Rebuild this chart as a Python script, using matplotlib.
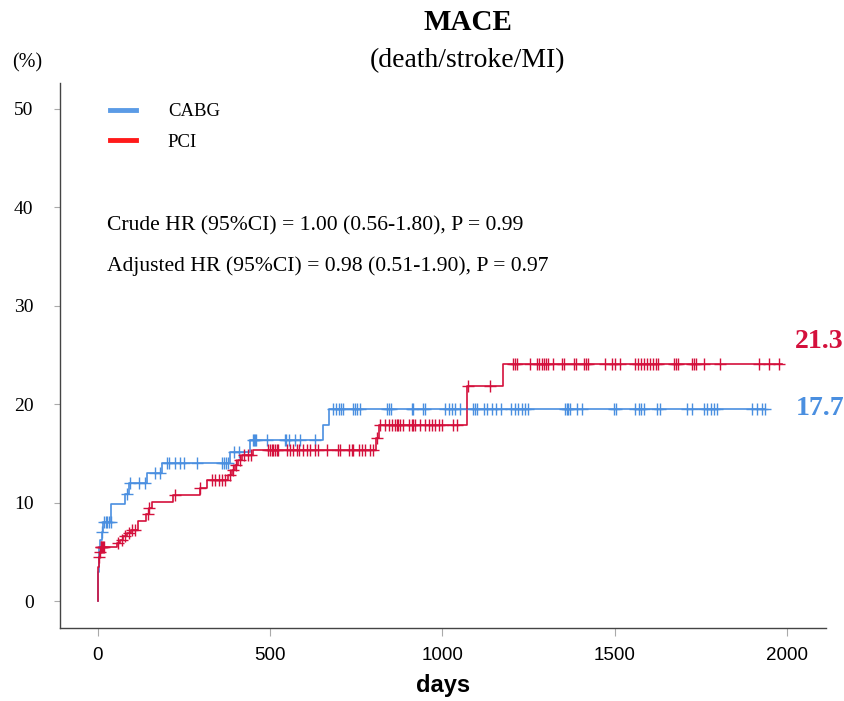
import numpy as np
import matplotlib
matplotlib.use("Agg")
import matplotlib.pyplot as plt
from matplotlib.lines import Line2D

# ---------------- data ----------------
cabg_time = [0, 1, 2, 3, 5, 8, 12, 16, 40, 80, 90, 143, 187, 385, 443, 655, 672]
cabg_pct = [0, 1.5, 3.0, 4.5, 5.5, 6.2, 7.0, 8.0, 9.9, 10.9, 12.0, 13.0, 14.0, 15.1, 16.4, 17.9, 19.5]
cabg_end = 1937
cabg_censor = [14, 20, 24, 28, 33, 38, 86, 95, 120, 138, 168, 180, 200, 206, 224, 239, 251,
               289, 362, 367, 372, 377, 395, 410, 450, 454, 457, 461, 492, 544, 548, 556,
               573, 587, 631, 684, 692, 699, 706, 713, 741, 748, 754, 761, 839, 845, 850,
               911, 916, 945, 950, 1008, 1018, 1028, 1037, 1052, 1090, 1095, 1101, 1120,
               1130, 1145, 1155, 1170, 1200, 1210, 1220, 1230, 1240, 1250, 1356, 1361, 1366,
               1371, 1390, 1404, 1497, 1505, 1560, 1570, 1575, 1585, 1622, 1632, 1710, 1724,
               1758, 1768, 1778, 1788, 1797, 1898, 1912, 1927, 1937]

pci_time = [0, 1, 2, 4, 6, 9, 55, 66, 75, 85, 98, 118, 140, 150, 158, 219, 297, 316, 379,
            389, 399, 408, 418, 452, 808, 815, 1071, 1175]
pci_pct = [0, 2.0, 3.5, 4.5, 5.0, 5.5, 5.9, 6.2, 6.6, 6.9, 7.2, 8.1, 8.8, 9.5, 10.1, 10.8,
           11.5, 12.3, 12.8, 13.3, 13.8, 14.3, 14.8, 15.3, 16.6, 17.9, 21.9, 24.1]
pci_end = 1985
pci_censor = [5, 7, 9, 11, 13, 16, 20, 60, 72, 80, 90, 100, 108, 145, 150, 225, 297, 331, 341,
              351, 360, 370, 383, 393, 403, 412, 424, 435, 445, 495, 500, 505, 510, 515, 520,
              524, 549, 558, 568, 578, 585, 595, 608, 616, 631, 640, 665, 698, 703, 730, 737,
              742, 757, 766, 776, 790, 800, 812, 819, 834, 844, 853, 863, 868, 872, 877, 887,
              902, 911, 916, 921, 936, 950, 960, 969, 979, 989, 998, 1032, 1042, 1075, 1139,
              1205, 1212, 1218, 1253, 1274, 1281, 1288, 1295, 1301, 1308, 1322, 1347, 1354,
              1381, 1388, 1410, 1417, 1424, 1471, 1492, 1502, 1516, 1560, 1568, 1577, 1585,
              1594, 1602, 1611, 1619, 1627, 1671, 1678, 1685, 1724, 1731, 1737, 1758, 1806,
              1918, 1947, 1976]

series_labels = ["CABG", "PCI"]
end_values = ["17.7", "21.3"]
hr_lines = ["Crude HR (95%CI) = 1.00 (0.56-1.80), P = 0.99",
            "Adjusted HR (95%CI) = 0.98 (0.51-1.90), P = 0.97"]
x_ticks = [0, 500, 1000, 1500, 2000]
y_ticks = [0, 10, 20, 30, 40, 50]

# ---------------- style ----------------
BLUE = "#4a8fe0"
RED = "#d4103c"
SERIF = ["Liberation Serif", "DejaVu Serif"]
SANS = ["Liberation Sans", "DejaVu Sans"]

fig = plt.figure(figsize=(8.45, 7.01), dpi=100)
ax = fig.add_axes([0.0710, 0.1041, 0.9065, 0.7775])


def step_curve(times, pcts, end, censor, color):
    t = list(times) + [end]
    p = list(pcts) + [pcts[-1]]
    ax.step(t, p, where="post", color=color, lw=1.2, zorder=3)
    tarr = np.asarray(times)
    parr = np.asarray(pcts)
    c = np.asarray(censor)
    idx = np.searchsorted(tarr, c, side="right") - 1
    ax.plot(c, parr[idx], linestyle="none", marker="+", color=color,
            markersize=8, mew=1.0, zorder=4)


step_curve(cabg_time, cabg_pct, cabg_end, cabg_censor, BLUE)
step_curve(pci_time, pci_pct, pci_end, pci_censor, RED)

ax.set_xlim(-109, 2113)
ax.set_ylim(-2.74, 52.64)
ax.set_xticks(x_ticks)
ax.set_yticks(y_ticks)
for s in ["top", "right"]:
    ax.spines[s].set_visible(False)
for s in ["left", "bottom"]:
    ax.spines[s].set_color("#444444")
    ax.spines[s].set_linewidth(1.0)

ax.tick_params(axis="y", length=4, color="#aaaaaa", pad=15)
ax.tick_params(axis="x", length=6, color="#aaaaaa", pad=8)
for lab in ax.get_yticklabels():
    lab.set_fontfamily(SERIF)
    lab.set_fontsize(14)
for lab in ax.get_xticklabels():
    lab.set_fontfamily(SANS)
    lab.set_fontsize(13.5)

ax.set_xlabel("days", fontfamily=SANS, fontweight="bold", fontsize=17, labelpad=7)

# legend
handles = [Line2D([], [], color="#5b9be6", lw=3.5),
           Line2D([], [], color="#ff1a1a", lw=3.5)]
ax.legend(handles, series_labels, loc="upper left", bbox_to_anchor=(0.043, 0.994),
          frameon=False, prop={"family": SERIF, "size": 13.5}, handlelength=1.4,
          handletextpad=1.7, labelspacing=0.72)

# HR texts
ax.text(0.0614, 0.7376, hr_lines[0], transform=ax.transAxes, ha="left", va="center",
        fontfamily=SERIF, fontsize=15.6)
ax.text(0.0614, 0.6642, hr_lines[1], transform=ax.transAxes, ha="left", va="center",
        fontfamily=SERIF, fontsize=15.6)

# end values
ax.text(2024, 26.4, end_values[1], color=RED, fontfamily=SERIF, fontweight="bold",
        fontsize=20, ha="left", va="center", clip_on=False)
ax.text(2024, 19.6, end_values[0], color=BLUE, fontfamily=SERIF, fontweight="bold",
        fontsize=20, ha="left", va="center", clip_on=False)

# titles
fig.text(468 / 845, 1 - 22 / 701, "MACE", ha="center", va="center", fontfamily=SERIF,
         fontweight="bold", fontsize=21)
fig.text(468 / 845, 1 - 61 / 701, "(death/stroke/MI)", ha="center", va="center",
         fontfamily=SERIF, fontsize=20)
fig.text(27 / 845, 1 - 63 / 701, "(%)", ha="center", va="center", fontfamily=SERIF,
         fontsize=14.5)

fig.savefig("out.png", dpi=100)
